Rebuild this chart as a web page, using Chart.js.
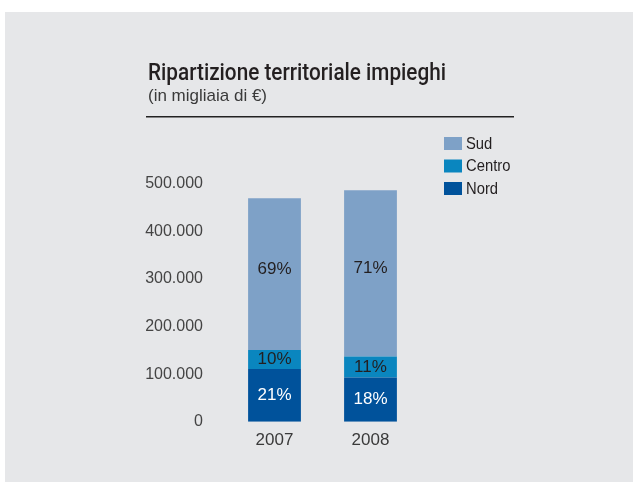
<!DOCTYPE html>
<html>
<head>
<meta charset="utf-8">
<script src="https://cdn.jsdelivr.net/npm/chart.js@4"></script>
<style>
html,body{margin:0;padding:0;background:#fff;}
#wrap{width:633px;height:485px;position:relative;}
</style>
</head>
<body>
<div id="wrap"><canvas id="c" width="633" height="485"></canvas></div>
<script>
const categories = ['2007', '2008'];
const nord = [111000, 93000];
const centro = [40000, 44000];
const sud = [319000, 350000];
const nordPct = ['21%', '18%'];
const centroPct = ['10%', '11%'];
const sudPct = ['69%', '71%'];
const seriesNames = ['Nord', 'Centro', 'Sud'];
const titleText = 'Ripartizione territoriale impieghi';
const subtitleText = '(in migliaia di €)';

const FONT = '"Liberation Sans", Arial, sans-serif';

function fitText(ctx, text, x, y, width) {
  const w = ctx.measureText(text).width;
  const k = Math.min(1, width / w);
  ctx.save();
  ctx.translate(x, y);
  ctx.scale(k, 1);
  ctx.fillText(text, 0, 0);
  ctx.restore();
}

const panelPlugin = {
  id: 'panel',
  beforeDraw(chart) {
    const ctx = chart.ctx;
    ctx.save();
    ctx.fillStyle = '#fff';
    ctx.fillRect(0, 0, chart.width, chart.height);
    ctx.fillStyle = '#e6e7e9';
    ctx.fillRect(5, 12, chart.width - 5, 470);
    ctx.restore();
  }
};

const headerPlugin = {
  id: 'header',
  afterDraw(chart) {
    const ctx = chart.ctx;
    ctx.save();
    ctx.fillStyle = '#231f20';
    ctx.textBaseline = 'alphabetic';
    ctx.textAlign = 'left';
    ctx.font = '500 23px Roboto, ' + FONT;
    fitText(ctx, titleText, 148, 80, 298);
    ctx.fillStyle = '#3a3a3a';
    ctx.font = '17px ' + FONT;
    fitText(ctx, subtitleText, 148, 101, 119);
    ctx.strokeStyle = '#222';
    ctx.lineWidth = 1.5;
    ctx.beginPath();
    ctx.moveTo(146, 116.75);
    ctx.lineTo(514, 116.75);
    ctx.stroke();
    ctx.restore();
  }
};

const legendPlugin = {
  id: 'customLegend',
  afterDraw(chart) {
    const ctx = chart.ctx;
    ctx.save();
    ctx.font = '17px ' + FONT;
    ctx.textBaseline = 'middle';
    ctx.textAlign = 'left';
    const ds = chart.data.datasets.slice().reverse();
    ds.forEach((d, i) => {
      const y = 137 + i * 22.5;
      ctx.fillStyle = d.backgroundColor;
      ctx.fillRect(444, y, 18, 13);
      ctx.fillStyle = '#231f20';
      fitText(ctx, d.label, 466, y + 7, ctx.measureText(d.label).width * 0.87);
    });
    ctx.restore();
  }
};

const labelPlugin = {
  id: 'barLabels',
  afterDatasetsDraw(chart) {
    const ctx = chart.ctx;
    ctx.save();
    ctx.font = '17px ' + FONT;
    ctx.textAlign = 'center';
    ctx.textBaseline = 'middle';
    chart.data.datasets.forEach((d, di) => {
      const meta = chart.getDatasetMeta(di);
      meta.data.forEach((bar, i) => {
        const p = bar.getProps(['x', 'y', 'base'], true);
        let cy = (p.y + p.base) / 2;
        if (d.offsetLabel) cy += d.offsetLabel;
        ctx.fillStyle = d.labelColor;
        ctx.fillText(d.pct[i], p.x, cy);
      });
    });
    ctx.restore();
  }
};

new Chart(document.getElementById('c'), {
  type: 'bar',
  data: {
    labels: categories,
    datasets: [
      { label: seriesNames[0], data: nord, backgroundColor: '#00529b', pct: nordPct, labelColor: '#ffffff' },
      { label: seriesNames[1], data: centro, backgroundColor: '#0a86bf', pct: centroPct, labelColor: '#231f20' },
      { label: seriesNames[2], data: sud, backgroundColor: '#7ea1c7', pct: sudPct, labelColor: '#231f20', offsetLabel: -5 }
    ]
  },
  options: {
    responsive: false,
    animation: false,
    devicePixelRatio: 1,
    layout: { padding: { left: 0, right: 214.5, top: 184, bottom: 0 } },
    datasets: { bar: { categoryPercentage: 1, barPercentage: 0.55, borderWidth: 0 } },
    plugins: { legend: { display: false }, title: { display: false }, tooltip: { enabled: false } },
    scales: {
      x: {
        stacked: true,
        grid: { display: false, drawTicks: false },
        border: { display: false },
        ticks: { color: '#3a3a3a', font: { family: FONT, size: 17 }, padding: 8 },
        afterFit(s) { s.height = 63.3; }
      },
      y: {
        stacked: true,
        min: 0,
        max: 500000,
        grid: { display: false, drawTicks: false },
        border: { display: false },
        ticks: {
          stepSize: 100000,
          color: '#444',
          font: { family: FONT, size: 16 },
          padding: 23.5,
          callback(v) { return v.toLocaleString('de-DE'); }
        },
        afterFit(s) { s.width = 226.5; }
      }
    }
  },
  plugins: [panelPlugin, headerPlugin, legendPlugin, labelPlugin]
});
</script>
</body>
</html>
